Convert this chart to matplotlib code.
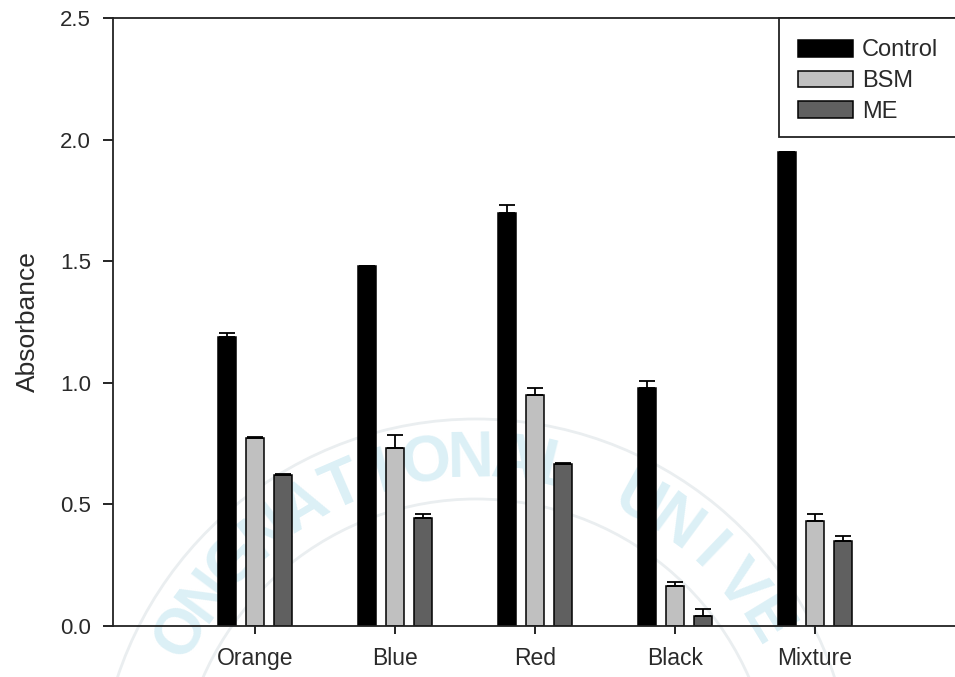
import numpy as np
import matplotlib
matplotlib.use("Agg")
import matplotlib.pyplot as plt
from matplotlib.patches import Rectangle, Arc

plt.rcParams['font.family'] = ['Liberation Sans', 'DejaVu Sans']

dyes = ['Orange', 'Blue', 'Red', 'Black', 'Mixture']
control = [1.19, 1.48, 1.70, 0.98, 1.95]
control_err = [0.015, 0.0, 0.033, 0.027, 0.0]
bsm = [0.775, 0.73, 0.95, 0.166, 0.43]
bsm_err = [0.004, 0.057, 0.03, 0.014, 0.03]
me = [0.622, 0.445, 0.666, 0.04, 0.35]
me_err = [0.004, 0.016, 0.004, 0.029, 0.022]

W, H = 955, 677
TXT = '#2a2a2a'
fig = plt.figure(figsize=(W / 100, H / 100), dpi=100)
ax = fig.add_axes([113 / W, 1 - 626 / H, (W - 113) / W, 608 / H])
ax.patch.set_alpha(0)

# faint background emblem: lettering along an arc plus two thin rings
emblem = 'ONGNATIONAL UNIVE'
cx, cy, r = 476, 797, 337
angles = np.linspace(-60.7, 58.7, len(emblem))
for ch, a in zip(emblem, angles):
    t = np.radians(a)
    px = cx + r * np.sin(t)
    py = cy - r * np.cos(t)
    fig.text(px / W, 1 - py / H, ch, color='#dcf0f6', fontsize=46,
             fontweight='bold', rotation=-a, ha='center', va='center',
             zorder=-2)
for rad in (378, 298):
    fig.add_artist(Arc((cx / W, 1 - cy / H), 2 * rad / W, 2 * rad / H,
                       theta1=15, theta2=165, color='#eaeef0', lw=2,
                       transform=fig.transFigure, zorder=-2))

x = np.arange(len(dyes))
off, bw = 0.2, 0.13
series = [
    (control, control_err, 'black', 'Control'),
    (bsm, bsm_err, '#c0c0c0', 'BSM'),
    (me, me_err, '#606060', 'ME'),
]
for i, (vals, errs, col, lab) in enumerate(series):
    pos = x + (i - 1) * off
    ax.bar(pos, vals, bw, color=col, edgecolor='black', linewidth=1.1,
           label=lab, zorder=2)
    ax.errorbar(pos, vals, yerr=[np.zeros(len(vals)), errs], fmt='none',
                ecolor='black', elinewidth=1.3, capsize=6, capthick=1.3,
                zorder=3)

ax.set_xlim(-1.014, 5.0)
ax.set_ylim(0, 2.5)
ax.set_yticks([0, 0.5, 1.0, 1.5, 2.0, 2.5])
ax.set_yticklabels(['0.0', '0.5', '1.0', '1.5', '2.0', '2.5'])
ax.set_xticks(x)
ax.set_xticklabels(dyes)
ax.tick_params(axis='y', length=7, width=1.2, pad=9, labelsize=16,
               labelcolor=TXT)
ax.tick_params(axis='x', length=6, width=1.2, pad=9, labelsize=16.5,
               labelcolor=TXT)
ax.spines['right'].set_visible(False)
for s in ('left', 'top', 'bottom'):
    ax.spines[s].set_linewidth(1.3)
    ax.spines[s].set_color('#222222')

ax.set_ylabel('Absorbance', fontsize=19, color=TXT)
ax.yaxis.set_label_coords(-0.0867, 0.5)

# legend box, open towards the right edge
ax.add_patch(Rectangle(((779 - 113) / (W - 113), 1 - (137 - 18) / 608),
                       0.5, (137 - 18) / 608, transform=ax.transAxes,
                       facecolor='white', edgecolor='#222222', lw=1.3,
                       clip_on=False, zorder=4))
leg = ax.legend(loc='upper left',
                bbox_to_anchor=((789 - 113) / (W - 113), 1 - 12 / 608),
                frameon=False, fontsize=17, handlelength=2.3,
                handleheight=0.72, handletextpad=0.4, labelspacing=0.37,
                borderaxespad=0)
leg.set_zorder(5)
for t in leg.get_texts():
    t.set_color(TXT)

fig.savefig('out.png', dpi=100)
